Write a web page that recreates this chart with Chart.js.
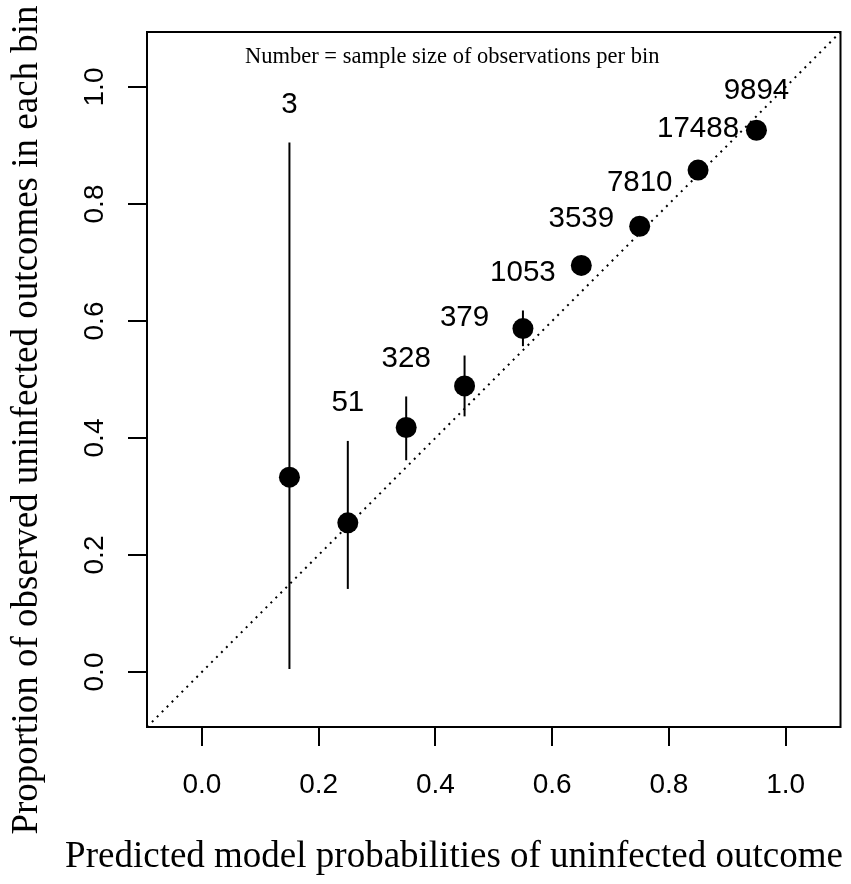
<!DOCTYPE html>
<html>
<head>
<meta charset="utf-8">
<script src="https://cdn.jsdelivr.net/npm/chart.js@4/dist/chart.umd.min.js"></script>
<style>
  html, body { margin: 0; padding: 0; background: #fff; }
  canvas { display: block; }
</style>
</head>
<body>
<canvas id="calib" width="851" height="884"></canvas>
<script>
// Bin midpoints and observed proportions
const binMids = [0.15, 0.25, 0.35, 0.45, 0.55, 0.65, 0.75, 0.85, 0.95];
const observed = [0.333, 0.255, 0.418, 0.489, 0.587, 0.695, 0.762, 0.858, 0.926];
const ciLower = [0.005, 0.142, 0.362, 0.437, 0.557, 0.680, 0.753, 0.853, 0.921];
const ciUpper = [0.905, 0.395, 0.471, 0.541, 0.618, 0.709, 0.771, 0.863, 0.929];
const binCounts = [3, 51, 328, 379, 1053, 3539, 7810, 17488, 9894];

const tickValues = [0, 0.2, 0.4, 0.6, 0.8, 1.0];
const tickLabels = ['0.0', '0.2', '0.4', '0.6', '0.8', '1.0'];
const axisRange = [-0.094, 1.094];

const xTitle = 'Predicted model probabilities of uninfected outcome';
const yTitle = 'Proportion of observed uninfected outcomes in each bin';
const noteText = 'Number = sample size of observations per bin';

const SERIF = '"Liberation Serif", "Times New Roman", serif';
const SANS = '"Liberation Sans", Arial, sans-serif';

// error bars go under the points
const errorBars = {
  id: 'errorBars',
  beforeDatasetsDraw(chart) {
    const { ctx, scales: { x, y } } = chart;
    ctx.save();
    ctx.strokeStyle = '#000';
    ctx.lineWidth = 2;
    binMids.forEach((b, i) => {
      const px = x.getPixelForValue(b);
      ctx.beginPath();
      ctx.moveTo(px, y.getPixelForValue(ciLower[i]));
      ctx.lineTo(px, y.getPixelForValue(ciUpper[i]));
      ctx.stroke();
    });
    ctx.restore();
  }
};

// box, tick labels, titles, counts
const decorations = {
  id: 'decorations',
  afterDraw(chart) {
    const { ctx, chartArea: a, scales: { x, y } } = chart;
    ctx.save();

    ctx.strokeStyle = '#000';
    ctx.lineWidth = 2;
    ctx.strokeRect(a.left, a.top, a.right - a.left, a.bottom - a.top);

    ctx.fillStyle = '#000';
    ctx.font = '28px ' + SANS;
    ctx.textAlign = 'center';
    ctx.textBaseline = 'middle';
    tickValues.forEach((v, i) => {
      ctx.fillText(tickLabels[i], x.getPixelForValue(v), 785);
    });
    tickValues.forEach((v, i) => {
      ctx.save();
      ctx.translate(95, y.getPixelForValue(v));
      ctx.rotate(-Math.PI / 2);
      ctx.fillText(tickLabels[i], 0, 0);
      ctx.restore();
    });

    // sample sizes above each bar
    ctx.font = '29.5px ' + SANS;
    binMids.forEach((b, i) => {
      ctx.fillText(String(binCounts[i]), x.getPixelForValue(b), y.getPixelForValue(ciUpper[i]) - 38);
    });

    ctx.textBaseline = 'alphabetic';
    ctx.textAlign = 'left';
    ctx.font = '22.5px ' + SERIF;
    ctx.fillText(noteText, 245, 63);

    ctx.textAlign = 'center';
    ctx.font = '37px ' + SERIF;
    ctx.fillText(xTitle, 454, 867);

    ctx.save();
    ctx.translate(37, 420);
    ctx.rotate(-Math.PI / 2);
    ctx.fillText(yTitle, 0, 0);
    ctx.restore();

    ctx.restore();
  }
};

const fixedTicks = (scale) => {
  scale.ticks = tickValues.map(v => ({ value: v }));
};

const axisOpts = (size) => ({
  type: 'linear',
  min: axisRange[0],
  max: axisRange[1],
  afterBuildTicks: fixedTicks,
  afterFit: size,
  border: { display: false },
  grid: {
    drawOnChartArea: false,
    drawTicks: true,
    tickLength: 19,
    color: '#000',
    lineWidth: 2
  },
  ticks: { display: false }
});

new Chart(document.getElementById('calib'), {
  type: 'scatter',
  data: {
    datasets: [
      {
        type: 'line',
        data: [
          { x: axisRange[0], y: axisRange[0] },
          { x: axisRange[1], y: axisRange[1] }
        ],
        borderColor: '#000',
        borderWidth: 2,
        borderDash: [2, 5],
        pointRadius: 0,
        fill: false
      },
      {
        data: binMids.map((b, i) => ({ x: b, y: observed[i] })),
        backgroundColor: '#000',
        borderWidth: 0,
        pointRadius: 10.5
      }
    ]
  },
  options: {
    responsive: false,
    devicePixelRatio: 1,
    animation: false,
    layout: { padding: { left: 0, right: 9, top: 32, bottom: 0 } },
    plugins: {
      legend: { display: false },
      tooltip: { enabled: false }
    },
    scales: {
      x: axisOpts(s => { s.height = 157; }),
      y: axisOpts(s => { s.width = 147; })
    }
  },
  plugins: [errorBars, decorations]
});
</script>
</body>
</html>
